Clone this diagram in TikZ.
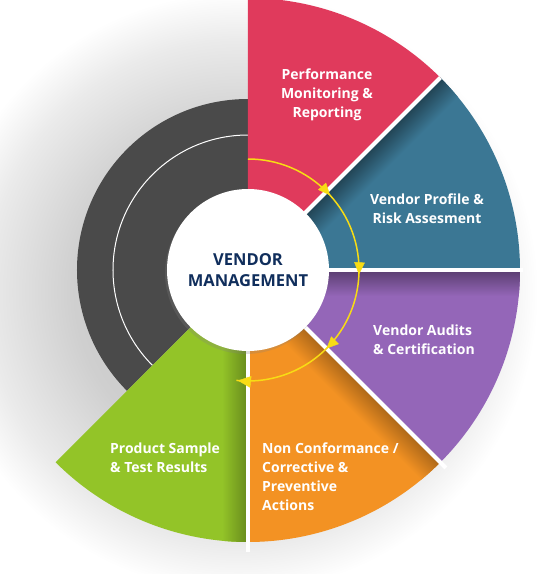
\documentclass[tikz,border=0pt]{standalone}
\usepackage{fontspec}
\setmainfont{Open Sans}
\usetikzlibrary{arrows.meta, decorations.markings, shadows}
\definecolor{Red}{HTML}{E03A5C}
\definecolor{Blue}{HTML}{3B7794}
\definecolor{Purple}{HTML}{9466B8}
\definecolor{Orange}{HTML}{F39223}
\definecolor{Green}{HTML}{93C428}
\definecolor{Grey}{HTML}{4A4A4A}
\definecolor{Yellow}{HTML}{F8DC14}
\definecolor{Navy}{HTML}{102E5C}
\pgfdeclareradialshading{halo}{\pgfpoint{0bp}{0bp}}{color(0bp)=(black!20);
  color(13.5bp)=(black!19); color(21bp)=(black!8); color(25bp)=(white); color(50bp)=(white)}
\tikzstyle{Cycle} = [
draw=Yellow, line width=1.5pt,
decoration={
markings,
mark=at position 0.26 with {\arrow[Yellow]{Triangle[length=14pt, width=12pt]}},
mark=at position 0.5 with {\arrow[Yellow]{Triangle[length=14pt, width=12pt]}},
mark=at position 0.73 with {\arrow[Yellow]{Triangle[length=14pt, width=12pt]}},
mark=at position 0.9999 with {\arrow[Yellow]{Triangle[length=15pt, width=13pt]}}},
preaction = {decorate}]
\tikzstyle{Divider} = [white, line width=4pt]
\tikzstyle{Label} = [text=white, inner sep=0pt,
font=\fontsize{14}{19}\selectfont\bfseries]

\begin{document}
\begin{tikzpicture}[x=1pt, y=1pt]
    \useasboundingbox (-248,-304) rectangle (307,270);
    \shade[shading=halo] (-10,-22) circle (300);
    % sectors
    \fill[Grey] (0,0) -- (90:171) arc[start angle=90, end angle=225, radius=171] -- cycle;
    \draw[white, line width=1pt] (90:135) arc[start angle=90, end angle=225, radius=135];
    \fill[Green] (0,0) -- (225:272) arc[start angle=225, end angle=270, radius=272] -- cycle;
    \fill[Orange] (0,0) -- (270:272) arc[start angle=270, end angle=315, radius=272] -- cycle;
    \fill[Purple] (0,0) -- (315:272) arc[start angle=315, end angle=360, radius=272] -- cycle;
    \fill[Blue] (0,0) -- (0:272) arc[start angle=0, end angle=45, radius=272] -- cycle;
    \fill[Red] (0,0) -- (45:272) arc[start angle=45, end angle=90, radius=272] -- cycle;
    % shadows along the edges
    \begin{scope}[transform canvas={rotate=45}]
        \clip (0,0) -- (-45:272) arc[start angle=-45, end angle=0, radius=272] -- cycle;
        \shade[top color=Blue!55!black, bottom color=Blue] (0,-26) rectangle (290,0);
    \end{scope}
    \begin{scope}
        \clip (0,0) -- (-45:272) arc[start angle=-45, end angle=0, radius=272] -- cycle;
        \shade[top color=Purple!60!black, bottom color=Purple] (0,-26) rectangle (290,0);
    \end{scope}
    \begin{scope}[transform canvas={rotate=-45}]
        \clip (0,0) -- (-45:272) arc[start angle=-45, end angle=0, radius=272] -- cycle;
        \shade[top color=Orange!70!black, bottom color=Orange] (0,-26) rectangle (290,0);
    \end{scope}
    \begin{scope}[transform canvas={rotate=-90}]
        \clip (0,0) -- (-45:272) arc[start angle=-45, end angle=0, radius=272] -- cycle;
        \shade[top color=Green!70!black, bottom color=Green] (0,-26) rectangle (290,0);
    \end{scope}
    \draw[Divider] (0,0) -- (45:272);
    \draw[Divider] (0,0) -- (0:275);
    \draw[Divider] (0,0) -- (-45:280);
    \draw[Divider] (0,0) -- (-90:282);
    % cycle
    \coordinate (7) at (90:111);
    \draw[Cycle] (7) arc[start angle=90, end angle=-96, radius=111];
    \node[circle, fill=white, minimum size=162pt, align=center, text=Navy,
        drop shadow={opacity=.25, shadow xshift=-2pt, shadow yshift=-3pt},
        font=\fontsize{16.5}{21}\selectfont\bfseries] (1) at (0,0) {VENDOR\\MANAGEMENT};
    \node[Label, align=center] (2) at (79,175) {Performance\\Monitoring \&\\Reporting};
    \node[Label, align=center] (3) at (179,61) {Vendor Profile \&\\Risk Assesment};
    \node[Label, align=left, anchor=west] (4) at (125,-69.5) {Vendor Audits\\\& Certification};
    \node[Label, align=left, anchor=west] (5) at (14,-206.5) {Non Conformance /\\Corrective \&\\Preventive\\Actions};
    \node[Label, align=left, anchor=west] (6) at (-138,-187.5) {Product Sample\\\& Test Results};
\end{tikzpicture}
\end{document}
